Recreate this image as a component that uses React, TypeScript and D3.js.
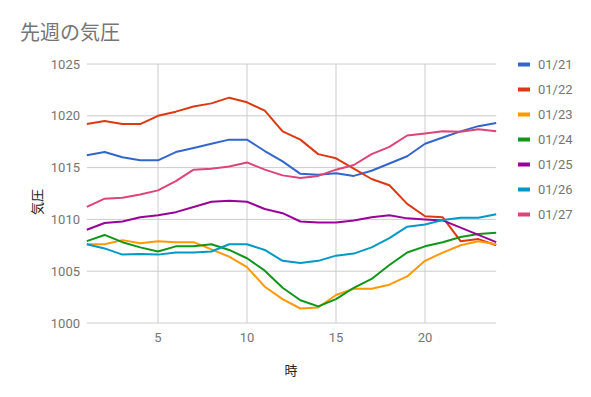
import React from "react";
import * as d3 from "d3";

const hours = d3.range(1, 25);
const seriesNames = ["01/21", "01/22", "01/23", "01/24", "01/25", "01/26", "01/27"];
const colors = ["#3366cc", "#dc3912", "#ff9900", "#109618", "#990099", "#0099c6", "#dd4477"];

const s0121 = [1016.2, 1016.5, 1016.0, 1015.7, 1015.7, 1016.5, 1016.9, 1017.3, 1017.7, 1017.7, 1016.6, 1015.6, 1014.4, 1014.3, 1014.45, 1014.2, 1014.7, 1015.4, 1016.1, 1017.3, 1017.9, 1018.5, 1019.0, 1019.3];
const s0122 = [1019.2, 1019.5, 1019.2, 1019.2, 1020.0, 1020.4, 1020.9, 1021.2, 1021.75, 1021.3, 1020.5, 1018.5, 1017.7, 1016.3, 1015.9, 1014.9, 1013.9, 1013.3, 1011.5, 1010.3, 1010.2, 1007.9, 1008.1, 1007.5];
const s0123 = [1007.6, 1007.6, 1008.0, 1007.7, 1007.9, 1007.8, 1007.8, 1007.1, 1006.4, 1005.4, 1003.5, 1002.3, 1001.4, 1001.5, 1002.7, 1003.3, 1003.3, 1003.7, 1004.5, 1006.0, 1006.8, 1007.5, 1007.9, 1007.6];
const s0124 = [1007.9, 1008.5, 1007.8, 1007.3, 1006.9, 1007.4, 1007.4, 1007.6, 1007.05, 1006.25, 1005.05, 1003.4, 1002.2, 1001.6, 1002.3, 1003.4, 1004.25, 1005.6, 1006.8, 1007.4, 1007.8, 1008.3, 1008.6, 1008.7];
const s0125 = [1009.0, 1009.65, 1009.8, 1010.2, 1010.4, 1010.7, 1011.2, 1011.7, 1011.8, 1011.7, 1011.0, 1010.6, 1009.8, 1009.7, 1009.7, 1009.9, 1010.2, 1010.4, 1010.1, 1010.0, 1009.9, 1009.2, 1008.5, 1007.8];
const s0126 = [1007.6, 1007.2, 1006.6, 1006.65, 1006.6, 1006.8, 1006.8, 1006.9, 1007.6, 1007.6, 1007.05, 1006.0, 1005.8, 1006.0, 1006.5, 1006.7, 1007.3, 1008.2, 1009.3, 1009.5, 1009.95, 1010.15, 1010.15, 1010.5];
const s0127 = [1011.2, 1012.0, 1012.1, 1012.4, 1012.8, 1013.7, 1014.8, 1014.9, 1015.1, 1015.5, 1014.8, 1014.25, 1014.0, 1014.2, 1014.8, 1015.25, 1016.3, 1017.0, 1018.1, 1018.3, 1018.5, 1018.45, 1018.7, 1018.5];
const allSeries = [s0121, s0122, s0123, s0124, s0125, s0126, s0127];

const xTicks = [5, 10, 15, 20];
const yTicks = [1000, 1005, 1010, 1015, 1020, 1025];

const title = "先週の気圧";
const xTitle = "時";
const yTitle = "気圧";

export default function App() {
  const W = 591, H = 397;
  const x = d3.scaleLinear().domain([1, 24]).range([86.8, 496.2]);
  const y = d3.scaleLinear().domain([1000, 1025]).range([323, 64]);
  const line = d3.line<number>().x((_, i) => x(hours[i])).y((d) => y(d));
  const font = "Roboto, 'Noto Sans CJK JP', sans-serif";

  return (
    <svg width={W} height={H} style={{ position: "absolute", left: 0, top: 0, background: "#fff" }} fontFamily={font}>
      <text x={20} y={40} fontSize={20} fill="#757575" fontFamily="'Noto Sans CJK JP', sans-serif">{title}</text>
      {yTicks.map((t) => (
        <g key={"y" + t}>
          <line x1={x(1)} x2={x(24)} y1={y(t)} y2={y(t)} stroke="#cccccc" strokeWidth={1} />
          <text x={80} y={y(t) + 4.5} fontSize={13} fill="#757575" textAnchor="end">{t}</text>
        </g>
      ))}
      {xTicks.map((t) => (
        <g key={"x" + t}>
          <line x1={x(t)} x2={x(t)} y1={y(1025)} y2={y(1000)} stroke="#cccccc" strokeWidth={1} />
          <text x={x(t)} y={342} fontSize={13} fill="#757575" textAnchor="middle">{t}</text>
        </g>
      ))}
      {allSeries.map((s, i) => (
        <path key={seriesNames[i]} d={line(s) || ""} fill="none" stroke={colors[i]} strokeWidth={2} strokeLinejoin="round" />
      ))}
      <text x={291} y={375} fontSize={13} fill="#222" textAnchor="middle" fontFamily="'Noto Sans CJK JP', sans-serif">{xTitle}</text>
      <text transform={`translate(42,${202}) rotate(-90)`} fontSize={13} fill="#222" textAnchor="middle" fontFamily="'Noto Sans CJK JP', sans-serif">{yTitle}</text>
      {seriesNames.map((n, i) => (
        <g key={"lg" + n} transform={`translate(0,${64.5 + i * 25})`}>
          <rect x={518} y={-2} width={12} height={4} fill={colors[i]} />
          <text x={538} y={4.5} fontSize={13} fill="#757575">{n}</text>
        </g>
      ))}
    </svg>
  );
}
